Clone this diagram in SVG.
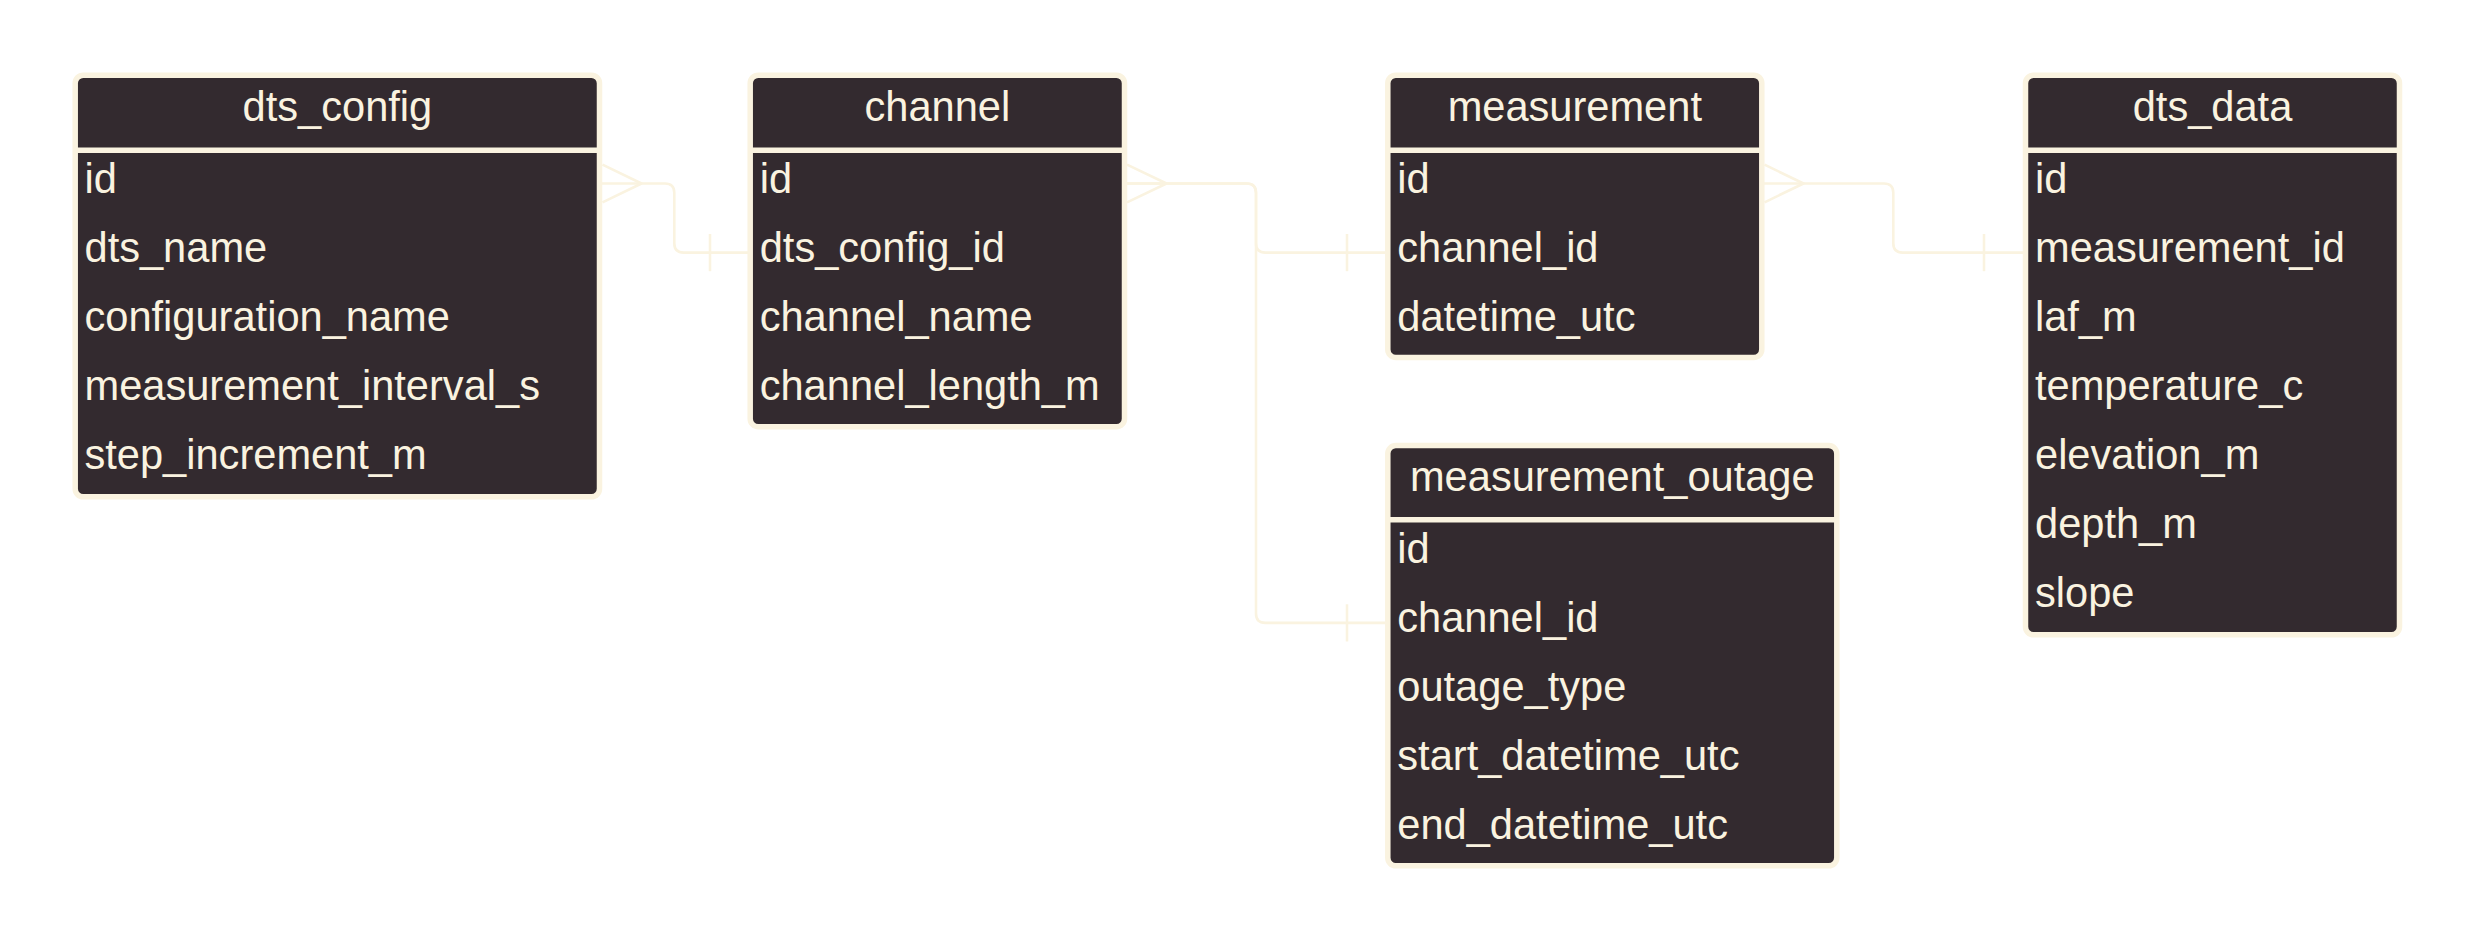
<svg xmlns="http://www.w3.org/2000/svg" width="2475" height="943" viewBox="0 0 2475 943">
<style>
.box{fill:#332a2f;stroke:#faf3e0;stroke-width:5.5}
.sep{stroke:#faf3e0;stroke-width:5.5}
.t{font-family:"Liberation Sans",Arial,sans-serif;font-size:41.6px;fill:#faf3e0}
.title{text-anchor:middle}
.edge{fill:none;stroke:#faf3e0;stroke-width:2.6;stroke-linejoin:round}
</style>
<rect width="2475" height="943" fill="#ffffff"/>
<g id="connectors">
  <g id="e1">
    <path class="edge" d="M600,183.5 H665 Q674.3,183.5 674.3,192.8 V243.3 Q674.3,252.6 683.6,252.6 H748"/>
    <path class="edge" d="M602.5,164.7 L641.5,183.5 L602.5,202.3"/>
    <path class="edge" d="M710,234 V271.2"/>
  </g>
  <g id="e2">
    <path class="edge" d="M1127,183.5 H1246.7 Q1256,183.5 1256,192.8 V243.3 Q1256,252.6 1265.3,252.6 H1385.5"/>
    <path class="edge" d="M1127,164.7 L1166.5,183.5 L1127,202.3"/>
    <path class="edge" d="M1347,234 V271.2"/>
  </g>
  <g id="e3">
    <path class="edge" d="M1127,183.5 H1246.7 Q1256,183.5 1256,192.8 V613.6 Q1256,622.9 1265.3,622.9 H1385.5"/>
    <path class="edge" d="M1347,604.3 V641.5"/>
  </g>
  <g id="e4">
    <path class="edge" d="M1764,183.5 H1884 Q1893.3,183.5 1893.3,192.8 V243.3 Q1893.3,252.6 1902.6,252.6 H2023"/>
    <path class="edge" d="M1764.5,164.7 L1803.5,183.5 L1764.5,202.3"/>
    <path class="edge" d="M1984,234 V271.2"/>
  </g>
</g>
<g id="dts_config">
  <rect class="box" x="75.2" y="75.2" width="524.3" height="421.6" rx="8"/>
  <line class="sep" x1="75.2" y1="150.3" x2="599.5" y2="150.3"/>
  <text class="t title" x="337.4" y="121">dts_config</text>
  <text class="t" x="84.5" y="192.7">id</text>
  <text class="t" x="84.5" y="261.8">dts_name</text>
  <text class="t" x="84.5" y="330.9">configuration_name</text>
  <text class="t" x="84.5" y="400">measurement_interval_s</text>
  <text class="t" x="84.5" y="469.1">step_increment_m</text>
</g>
<g id="channel">
  <rect class="box" x="750.2" y="75.2" width="374.3" height="351.5" rx="8"/>
  <line class="sep" x1="750.2" y1="150.3" x2="1124.5" y2="150.3"/>
  <text class="t title" x="937.4" y="121">channel</text>
  <text class="t" x="759.7" y="192.7">id</text>
  <text class="t" x="759.7" y="261.8">dts_config_id</text>
  <text class="t" x="759.7" y="330.9">channel_name</text>
  <text class="t" x="759.7" y="400">channel_length_m</text>
</g>
<g id="measurement">
  <rect class="box" x="1387.8" y="75.2" width="374" height="282.3" rx="8"/>
  <line class="sep" x1="1387.8" y1="150.3" x2="1761.8" y2="150.3"/>
  <text class="t title" x="1574.8" y="121">measurement</text>
  <text class="t" x="1397.3" y="192.7">id</text>
  <text class="t" x="1397.3" y="261.8">channel_id</text>
  <text class="t" x="1397.3" y="330.9">datetime_utc</text>
</g>
<g id="measurement_outage">
  <rect class="box" x="1387.8" y="445.5" width="449" height="420.3" rx="8"/>
  <line class="sep" x1="1387.8" y1="519.8" x2="1836.8" y2="519.8"/>
  <text class="t title" x="1612.3" y="491.3">measurement_outage</text>
  <text class="t" x="1397.3" y="563">id</text>
  <text class="t" x="1397.3" y="632.1">channel_id</text>
  <text class="t" x="1397.3" y="701.2">outage_type</text>
  <text class="t" x="1397.3" y="770.3">start_datetime_utc</text>
  <text class="t" x="1397.3" y="839.4">end_datetime_utc</text>
</g>
<g id="dts_data">
  <rect class="box" x="2025.5" y="75.2" width="374" height="559.6" rx="8"/>
  <line class="sep" x1="2025.5" y1="150.3" x2="2399.5" y2="150.3"/>
  <text class="t title" x="2212.5" y="121">dts_data</text>
  <text class="t" x="2035" y="192.7">id</text>
  <text class="t" x="2035" y="261.8">measurement_id</text>
  <text class="t" x="2035" y="330.9">laf_m</text>
  <text class="t" x="2035" y="400">temperature_c</text>
  <text class="t" x="2035" y="469.1">elevation_m</text>
  <text class="t" x="2035" y="538.2">depth_m</text>
  <text class="t" x="2035" y="607.3">slope</text>
</g>
</svg>
